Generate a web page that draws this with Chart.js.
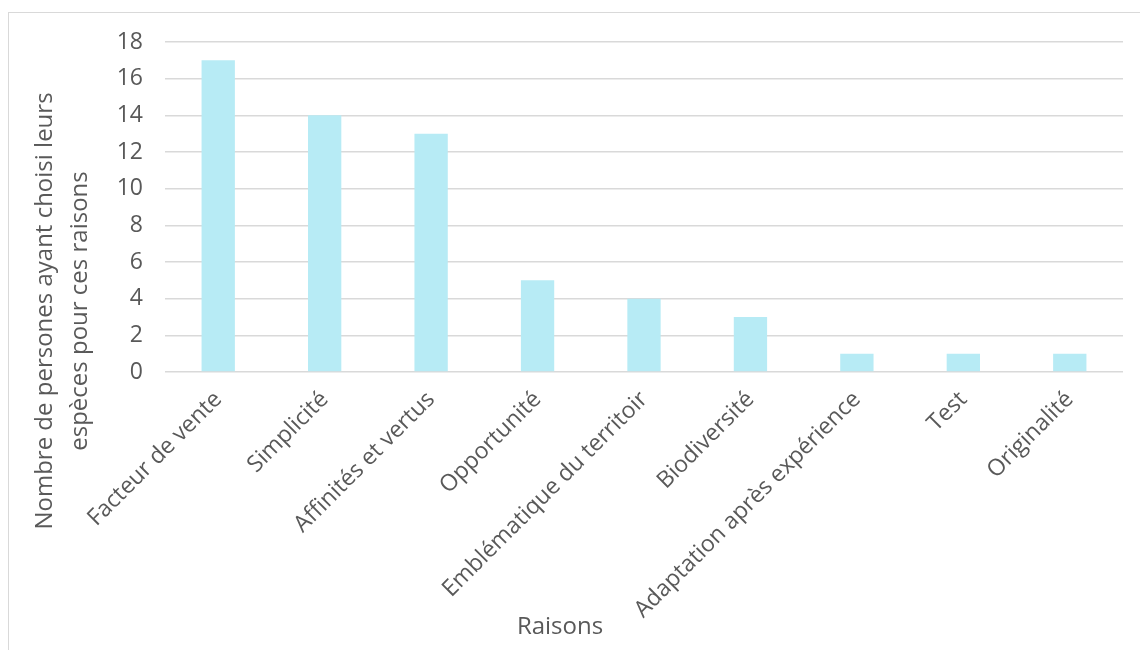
<!DOCTYPE html>
<html lang="fr">
<head>
    <meta charset="UTF-8">
    <title>Raisons du choix des espèces</title>
    <script src="https://cdn.jsdelivr.net/npm/chart.js"></script>
    <style>
        body {
            margin: 0;
            width: 1140px;
            height: 650px;
            overflow: hidden;
            background-color: #fff;
            font-family: 'Open Sans', sans-serif;
        }

        #frame {
            position: absolute;
            left: 8px;
            top: 12px;
            width: 1200px;
            height: 700px;
            border: 1.5px solid #d9d9d9;
        }

        #chartContainer {
            position: absolute;
            left: 0;
            top: 0;
            width: 1140px;
            height: 650px;
        }
    </style>
</head>
<body>

    <div id="frame"></div>
    <div id="chartContainer">
        <canvas id="myChart"></canvas>
    </div>

    <script>
        const raisons = [
            'Facteur de vente',
            'Simplicité',
            'Affinités et vertus',
            'Opportunité',
            'Emblématique du territoir',
            'Biodiversité',
            'Adaptation après expérience',
            'Test',
            'Originalité'
        ];
        const nbPersonnes = [17, 14, 13, 5, 4, 3, 1, 1, 1];
        const yTitre = ['Nombre de persones ayant choisi leurs', 'espèces pour ces raisons'];
        const xTitre = 'Raisons';

        const textColor = '#595959';
        const fontFamily = "'Open Sans', sans-serif";

        // titres des axes dessinés à la main pour les placer comme dans Excel
        const axisTitles = {
            id: 'axisTitles',
            afterDraw(chart) {
                const ctx = chart.ctx;
                ctx.save();
                ctx.fillStyle = textColor;
                ctx.font = '24px ' + fontFamily;
                ctx.textAlign = 'center';
                ctx.textBaseline = 'middle';

                ctx.save();
                ctx.translate(45, 311);
                ctx.rotate(-Math.PI / 2);
                ctx.fillText(yTitre[0], 0, 0);
                ctx.fillText(yTitre[1], 0, 35);
                ctx.restore();

                ctx.fillText(xTitre, 560, 627);
                ctx.restore();
            }
        };

        const ctx = document.getElementById('myChart').getContext('2d');
        const chart = new Chart(ctx, {
            type: 'bar',
            data: {
                labels: raisons,
                datasets: [{
                    data: nbPersonnes,
                    backgroundColor: '#b7ebf5',
                    borderWidth: 0,
                    categoryPercentage: 1,
                    barPercentage: 0.313
                }]
            },
            options: {
                responsive: true,
                maintainAspectRatio: false,
                animation: false,
                layout: {
                    padding: { top: 42, right: 17, bottom: 0, left: 0 }
                },
                plugins: {
                    legend: { display: false },
                    tooltip: { enabled: false }
                },
                scales: {
                    x: {
                        grid: { display: false },
                        border: { display: false },
                        ticks: {
                            color: textColor,
                            font: { family: fontFamily, size: 23 },
                            minRotation: 45,
                            maxRotation: 45,
                            padding: 6,
                            autoSkip: false
                        },
                        afterFit: function (scale) {
                            scale.height = 278;
                        }
                    },
                    y: {
                        min: 0,
                        max: 18,
                        grid: {
                            color: '#d9d9d9',
                            lineWidth: 1.5,
                            drawTicks: false
                        },
                        border: { display: false },
                        ticks: {
                            stepSize: 2,
                            color: textColor,
                            font: { family: fontFamily, size: 23 },
                            padding: 22
                        },
                        afterFit: function (scale) {
                            scale.width = 165;
                        }
                    }
                }
            },
            plugins: [axisTitles]
        });
    </script>
</body>
</html>
